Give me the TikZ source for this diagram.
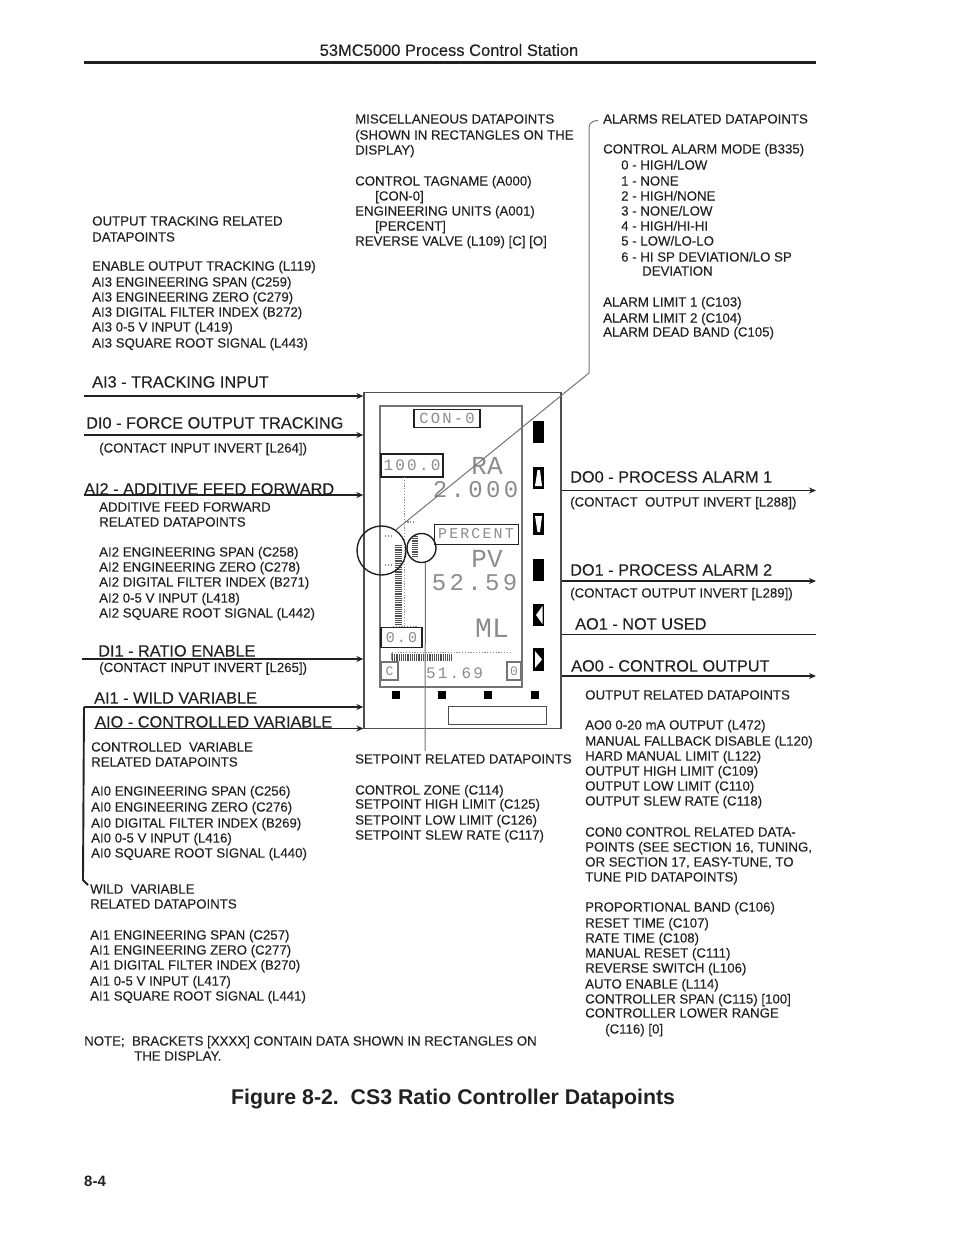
\documentclass[tikz,border=0pt]{standalone}
\usepackage{fontspec}
\setmainfont{Liberation Sans}
\newfontfamily\inkfont[FakeBold=0.12]{Liberation Sans}
\newfontfamily\lcdfont[LetterSpace=14]{Liberation Mono}
\newfontfamily\lcdplain{Liberation Mono}
\usetikzlibrary{arrows.meta}
\definecolor{ink}{gray}{0.13}
\definecolor{lcdgray}{gray}{0.55}
\definecolor{lcdline}{gray}{0.45}
\tikzset{
  lab/.style={anchor=base west,inner sep=0pt,yshift=-4.5pt,text=ink,font=\inkfont\fontsize{13.25}{15}\selectfont},
  big/.style={lab,yshift=-1pt,font=\inkfont\fontsize{16.3}{18}\selectfont},
  sig/.style={line width=1.9pt,ink,-{Stealth[length=7pt,width=6pt]}},
  sigthin/.style={line width=1.2pt,ink,-{Stealth[length=7pt,width=6pt]}},
  plain/.style={line width=1.9pt,ink},
  leader/.style={line width=1pt,lcdline},
  frame/.style={draw=ink!80,inner sep=0pt,line width=1.3pt},
  lcdbox/.style={draw=ink,inner sep=0pt,line width=1.3pt,fill=white},
  lcdtext/.style={inner sep=0pt,text=lcdgray},
  ring/.style={circle,draw=ink,line width=1.4pt,inner sep=0pt},
  keydot/.style={fill=black,inner sep=0pt,minimum size=8pt},
}
\newcommand\tl[4]{\node[lab] (#1) at (#2,#3) {#4};}
\newcommand\bl[4]{\node[big] (#1) at (#2,#3) {#4};}
\begin{document}
\begin{tikzpicture}[x=1pt,y=-1pt]
\useasboundingbox (0,0) rectangle (954,1235);
% header
\node[inner sep=0pt,text=ink,font=\inkfont\fontsize{16.5}{18}\selectfont] (head) at (449,50) {53MC5000 Process Control Station};
\coordinate (hrA) at (84,62.5); \coordinate (hrB) at (816,62.5);
\draw[line width=2.4pt,ink] (hrA) -- (hrB);
% station
\node[frame,minimum width=197pt,minimum height=336pt] (station) at (462.5,560.5) {};
\node[draw=lcdline,inner sep=0pt,line width=1.5pt,minimum width=142pt,minimum height=281pt] (lcd) at (451,546.5) {};
% LCD content
\node[lcdbox,minimum width=66pt,minimum height=18pt] (conbox) at (447,418.5) {};
\node[lcdtext,font=\fontsize{15.5}{16}\lcdfont] (con) at (447,418.5) {CON-0};
\node[lcdbox,minimum width=62pt,minimum height=23pt] (spanbox) at (412,465.5) {};
\node[lcdtext,font=\fontsize{16}{16}\lcdfont] (span) at (412,465.5) {100.0};
\node[lcdtext,font=\fontsize{26}{26}\lcdplain] (ra) at (487,465.5) {RA};
\node[lcdtext,font=\fontsize{24}{24}\lcdfont] (ratio) at (475.5,489.5) {2.000};
\node[draw=ink,line width=1pt,fill=white,inner sep=0pt,minimum width=84pt,minimum height=20pt] (pctbox) at (476,534) {};
\node[lcdtext,font=\fontsize{15}{16}\lcdfont] (pct) at (476,534) {PERCENT};
\node[lcdtext,font=\fontsize{26}{26}\lcdplain] (pv) at (487,558.5) {PV};
\node[lcdtext,font=\fontsize{24}{24}\lcdfont] (pvval) at (474.5,583) {52.59};
\node[lcdtext,font=\fontsize{28}{28}\lcdplain] (ml) at (492,628) {ML};
\node[lcdbox,minimum width=41pt,minimum height=20pt] (zerobox) at (401.5,637.5) {};
\node[lcdtext,font=\fontsize{15}{16}\lcdfont] (zero) at (401.5,637.5) {0.0};
\node[draw=lcdline,line width=2pt,inner sep=0pt,minimum width=17pt,minimum height=18pt] (lbox) at (389.5,671) {};
\node[lcdtext,font=\fontsize{13}{14}\lcdplain] (ltxt) at (389.5,671) {C};
\node[draw=lcdline,line width=2pt,inner sep=0pt,minimum width=14pt,minimum height=18pt] (rbox) at (514,671) {};
\node[lcdtext,font=\fontsize{13}{14}\lcdplain] (rtxt) at (514,671) {0};
\node[lcdtext,font=\fontsize{16}{16}\lcdfont] (out) at (454.5,673.5) {51.69};
% bar graphs
\draw[lcdgray,line width=1.4pt,dash pattern=on 1.2pt off 1.6pt] (404.5,477) -- (404.5,626);
\draw[lcdgray,line width=1.4pt,dash pattern=on 1.2pt off 1.6pt] (404.5,522) -- (414,522);
\draw[lcdgray,line width=1.4pt,dash pattern=on 1.2pt off 1.6pt] (393,626.5) -- (418,626.5);
\draw[ink!80,line width=7pt,dash pattern=on 1.1pt off 1.1pt] (398.5,545) -- (398.5,625);
\draw[ink!80,line width=6pt,dash pattern=on 1.1pt off 1.1pt] (415,536) -- (415,558);
\draw[lcdgray,line width=1.2pt,dash pattern=on 1.2pt off 1.6pt] (385,536) -- (391,536);
\draw[lcdgray,line width=1.2pt,dash pattern=on 1.2pt off 1.6pt] (385,565) -- (391,565);
\draw[lcdgray,line width=1.4pt,dash pattern=on 1.2pt off 1.6pt] (392,652.5) -- (510,652.5);
\draw[lcdgray,line width=1.2pt] (392,652.5) -- (392,660);
\draw[ink!80,line width=7pt,dash pattern=on 1.1pt off 1.1pt] (392,657.5) -- (452,657.5);
% keys on the right
\fill[black] (533,421) rectangle (544,443);
\fill[black] (533,467) rectangle (544,489);
\fill[white] (537.5,470) -- (540,470) -- (542,486) -- (535,486) -- cycle;
\fill[black] (533,513) rectangle (544,535);
\fill[white] (535,516) -- (542,516) -- (540,532) -- (537.5,532) -- cycle;
\fill[black] (533,559) rectangle (544,581);
\fill[black] (533,604) rectangle (544,626);
\fill[white] (542.5,606) -- (542.5,624) -- (536,615) -- cycle;
\fill[black] (533,648) rectangle (544,671);
\fill[white] (535,651) -- (535,668) -- (542,659.5) -- cycle;
% keys at the bottom
\node[keydot] (k1) at (396,695) {};
\node[keydot] (k2) at (442,695) {};
\node[keydot] (k3) at (488,695) {};
\node[keydot] (k4) at (535,695) {};
\node[draw=ink!80,line width=1pt,inner sep=0pt,minimum width=98pt,minimum height=18pt] (tagbox) at (497,715.5) {};
% rings and leaders
\node[ring,minimum size=49pt] (ringA) at (381.5,550.5) {};
\node[ring,minimum size=29pt] (ringB) at (421.5,548) {};
\coordinate (bend) at (589,373);
\coordinate (alarmEnd) at (598,120.5);
\draw[leader] (ringA.55) -- (bend) -- (589,127) to[out=90,in=180] (alarmEnd);
\coordinate (spEnd) at (425,751);
\draw[leader] (ringB.-75) -- (spEnd);
% input signals
\coordinate (ai3s) at (84,396); \coordinate (di0s) at (84,435); \coordinate (ai2s) at (84,495);
\coordinate (di1s) at (82,659); \coordinate (ai1s) at (84,707); \coordinate (ai0s) at (94,728.5);
\coordinate (wvEnd) at (88,885);
\draw[sig] (ai3s) -- (ai3s -| station.west);
\draw[sig] (di0s) -- (di0s -| station.west);
\draw[sig] (ai2s) -- (ai2s -| station.west);
\draw[sig] (di1s) -- (di1s -| station.west);
\draw[sig] (ai1s) -- (ai1s -| station.west);
\draw[sigthin] (ai0s) -- (ai0s -| station.west);
\draw[plain] (ai1s) -- (83,880) -- (wvEnd);
% output signals
\coordinate (do0e) at (816,490.5); \coordinate (do1e) at (816,581); \coordinate (ao1e) at (816,634.5); \coordinate (ao0e) at (816,676);
\draw[sigthin] (do0e -| station.east) -- (do0e);
\draw[sig] (do1e -| station.east) -- (do1e);
\draw[plain] (ao1e -| station.east) -- (ao1e);
\draw[sig] (ao0e -| station.east) -- (ao0e);
% misc block
\tl{m1}{355}{119}{MISCELLANEOUS DATAPOINTS}
\tl{m2}{355}{135}{(SHOWN IN RECTANGLES ON THE}
\tl{m3}{355}{150}{DISPLAY)}
\tl{m4}{355}{181}{CONTROL TAGNAME (A000)}
\tl{m5}{375}{196}{[CON-0]}
\tl{m6}{355}{211}{ENGINEERING UNITS (A001)}
\tl{m7}{375}{226}{[PERCENT]}
\tl{m8}{355}{241}{REVERSE VALVE (L109) [C] [O]}
% alarm block
\tl{a1}{603}{119}{ALARMS RELATED DATAPOINTS}
\tl{a2}{603}{149}{CONTROL ALARM MODE (B335)}
\tl{a3}{621}{165}{0 - HIGH/LOW}
\tl{a4}{621}{181}{1 - NONE}
\tl{a5}{621}{196}{2 - HIGH/NONE}
\tl{a6}{621}{211}{3 - NONE/LOW}
\tl{a7}{621}{226}{4 - HIGH/HI-HI}
\tl{a8}{621}{241}{5 - LOW/LO-LO}
\tl{a9}{621}{257}{6 - HI SP DEVIATION/LO SP}
\tl{a10}{642}{271}{DEVIATION}
\tl{a11}{603}{302}{ALARM LIMIT 1 (C103)}
\tl{a12}{603}{318}{ALARM LIMIT 2 (C104)}
\tl{a13}{603}{332}{ALARM DEAD BAND (C105)}
% output tracking block
\tl{o1}{92}{221}{OUTPUT TRACKING RELATED}
\tl{o2}{92}{237}{DATAPOINTS}
\tl{o3}{92}{266}{ENABLE OUTPUT TRACKING (L119)}
\tl{o4}{92}{282}{AI3 ENGINEERING SPAN (C259)}
\tl{o5}{92}{297}{AI3 ENGINEERING ZERO (C279)}
\tl{o6}{92}{312}{AI3 DIGITAL FILTER INDEX (B272)}
\tl{o7}{92}{327}{AI3 0-5 V INPUT (L419)}
\tl{o8}{92}{343}{AI3 SQUARE ROOT SIGNAL (L443)}
% input labels
\bl{ai3}{92}{382}{AI3 - TRACKING INPUT}
\bl{di0}{86}{423}{DI0 - FORCE OUTPUT TRACKING}
\tl{c0}{99}{448}{(CONTACT INPUT INVERT [L264])}
\bl{ai2}{84}{489}{AI2 - ADDITIVE FEED FORWARD}
\tl{f1}{99}{507}{ADDITIVE FEED FORWARD}
\tl{f2}{99}{522}{RELATED DATAPOINTS}
\tl{f3}{99}{552}{AI2 ENGINEERING SPAN (C258)}
\tl{f4}{99}{567}{AI2 ENGINEERING ZERO (C278)}
\tl{f5}{99}{582}{AI2 DIGITAL FILTER INDEX (B271)}
\tl{f6}{99}{598}{AI2 0-5 V INPUT (L418)}
\tl{f7}{99}{613}{AI2 SQUARE ROOT SIGNAL (L442)}
\bl{di1}{98}{651}{DI1 - RATIO ENABLE}
\tl{c1}{99}{667.5}{(CONTACT INPUT INVERT [L265])}
\bl{ai1}{94}{698}{AI1 - WILD VARIABLE}
\bl{ai0}{95}{722}{AIO - CONTROLLED VARIABLE}
\tl{v1}{91}{747}{CONTROLLED\ \ VARIABLE}
\tl{v2}{91}{762}{RELATED DATAPOINTS}
\tl{v3}{91}{791}{AI0 ENGINEERING SPAN (C256)}
\tl{v4}{91}{807}{AI0 ENGINEERING ZERO (C276)}
\tl{v5}{91}{823}{AI0 DIGITAL FILTER INDEX (B269)}
\tl{v6}{91}{838}{AI0 0-5 V INPUT (L416)}
\tl{v7}{91}{853}{AI0 SQUARE ROOT SIGNAL (L440)}
\tl{w1}{90}{889}{WILD\ \ VARIABLE}
\tl{w2}{90}{904}{RELATED DATAPOINTS}
\tl{w3}{90}{935}{AI1 ENGINEERING SPAN (C257)}
\tl{w4}{90}{950}{AI1 ENGINEERING ZERO (C277)}
\tl{w5}{90}{965}{AI1 DIGITAL FILTER INDEX (B270)}
\tl{w6}{90}{981}{AI1 0-5 V INPUT (L417)}
\tl{w7}{90}{996}{AI1 SQUARE ROOT SIGNAL (L441)}
\tl{n1}{84}{1041}{NOTE;\ \ BRACKETS [XXXX] CONTAIN DATA SHOWN IN RECTANGLES ON}
\tl{n2}{134}{1056}{THE DISPLAY.}
% setpoint block
\tl{s1}{355}{759}{SETPOINT RELATED DATAPOINTS}
\tl{s2}{355}{790}{CONTROL ZONE (C114)}
\tl{s3}{355}{804}{SETPOINT HIGH LIMIT (C125)}
\tl{s4}{355}{820}{SETPOINT LOW LIMIT (C126)}
\tl{s5}{355}{835}{SETPOINT SLEW RATE (C117)}
% output labels
\bl{do0}{570}{477}{DO0 - PROCESS ALARM 1}
\tl{c2}{570}{502}{(CONTACT\ \ OUTPUT INVERT [L288])}
\bl{do1}{570}{570}{DO1 - PROCESS ALARM 2}
\tl{c3}{570}{593}{(CONTACT OUTPUT INVERT [L289])}
\bl{ao1}{575}{624}{AO1 - NOT USED}
\bl{ao0}{571}{666}{AO0 - CONTROL OUTPUT}
% right column
\tl{r1}{585}{695}{OUTPUT RELATED DATAPOINTS}
\tl{r2}{585}{725}{AO0 0-20 mA OUTPUT (L472)}
\tl{r3}{585}{741}{MANUAL FALLBACK DISABLE (L120)}
\tl{r4}{585}{756}{HARD MANUAL LIMIT (L122)}
\tl{r5}{585}{771}{OUTPUT HIGH LIMIT (C109)}
\tl{r6}{585}{786}{OUTPUT LOW LIMIT (C110)}
\tl{r7}{585}{801}{OUTPUT SLEW RATE (C118)}
\tl{r8}{585}{832}{CON0 CONTROL RELATED DATA-}
\tl{r9}{585}{847}{POINTS (SEE SECTION 16, TUNING,}
\tl{r10}{585}{862}{OR SECTION 17, EASY-TUNE, TO}
\tl{r11}{585}{877}{TUNE PID DATAPOINTS)}
\tl{r12}{585}{907}{PROPORTIONAL BAND (C106)}
\tl{r13}{585}{923}{RESET TIME (C107)}
\tl{r14}{585}{938}{RATE TIME (C108)}
\tl{r15}{585}{953}{MANUAL RESET (C111)}
\tl{r16}{585}{968}{REVERSE SWITCH (L106)}
\tl{r17}{585}{984}{AUTO ENABLE (L114)}
\tl{r18}{585}{999}{CONTROLLER SPAN (C115) [100]}
\tl{r19}{585}{1013}{CONTROLLER LOWER RANGE}
\tl{r20}{605}{1029}{(C116) [0]}
% caption and page number
\node[anchor=base west,inner sep=0pt,yshift=-7pt,text=ink,font=\fontsize{21.3}{24}\selectfont\bfseries] (fig) at (231,1097) {Figure 8-2.\ \ CS3 Ratio Controller Datapoints};
\node[anchor=base west,inner sep=0pt,yshift=-5pt,text=ink,font=\fontsize{15}{16}\selectfont\bfseries] (page) at (84,1181) {8-4};
\end{tikzpicture}
\end{document}
